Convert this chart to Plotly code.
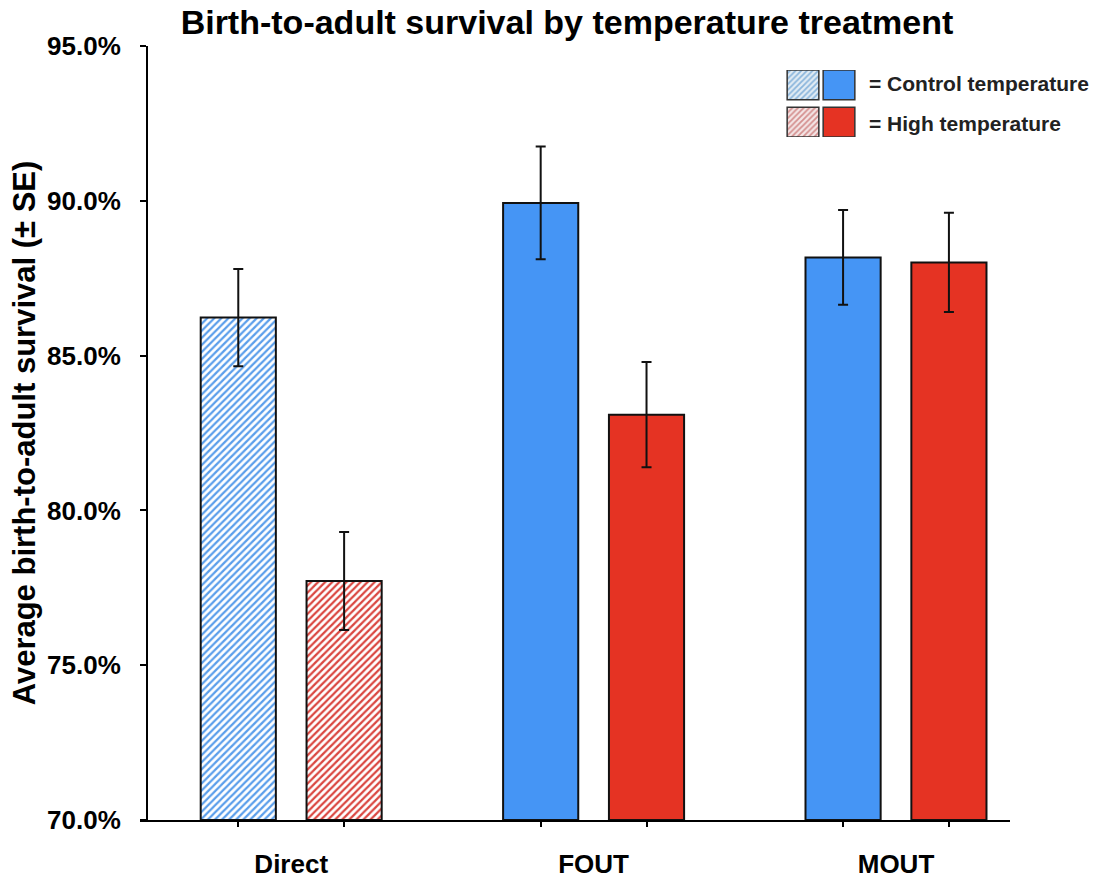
import plotly.graph_objects as go

# Survival data (percent) with standard errors
treatments = ["Direct", "FOUT", "MOUT"]
control_mean = [86.23, 89.93, 88.17]
control_se = [1.57, 1.82, 1.53]
high_mean = [77.72, 83.09, 88.01]
high_se = [1.58, 1.70, 1.60]
y_ticks = [70, 75, 80, 85, 90, 95]

series_names = ["Control temperature", "High temperature"]
legend_labels = ["= Control temperature", "= High temperature"]

# Treatments drawn with a hatched fill; the rest are solid
hatched_treatments = ["Direct"]

FONT = "Liberation Sans, Arial, Helvetica, sans-serif"
BLUE = "#4595F5"
RED = "#E53323"
BLUE_HATCH = "#5A9EEB"
RED_HATCH = "#DA4640"
OUTLINE = "#111111"

fig = go.Figure()


def add_series(name, group, means, ses, solid, hatch_col):
    # hatched and solid parts share an offsetgroup so they sit in one slot
    for is_hatched in (True, False):
        idx = [i for i, t in enumerate(treatments)
               if (t in hatched_treatments) == is_hatched]
        if is_hatched:
            marker = dict(color="white", line=dict(color=OUTLINE, width=2),
                          pattern=dict(shape="/", fgcolor=hatch_col,
                                       bgcolor="white", size=5,
                                       solidity=0.45, fillmode="replace"))
        else:
            marker = dict(color=solid, line=dict(color=OUTLINE, width=2))
        fig.add_trace(go.Bar(
            x=[treatments[i] for i in idx],
            y=[means[i] - 70 for i in idx], base=70,
            name=name, offsetgroup=group, showlegend=False,
            marker=marker,
            error_y=dict(type="data", array=[ses[i] for i in idx],
                         visible=True, color=OUTLINE, thickness=2, width=5),
        ))


add_series(series_names[0], "control", control_mean, control_se, BLUE, BLUE_HATCH)
add_series(series_names[1], "high", high_mean, high_se, RED, RED_HATCH)

# Invisible trace so the overlay axis carrying the per-bar tick marks is drawn
fig.add_trace(go.Scatter(x=[], y=[], xaxis="x2", showlegend=False,
                         hoverinfo="skip"))

# Legend swatches (hatched + solid square per series), drawn as small bars
swatches = [
    # column, row base, pattern shape, fg colour, bg colour
    (0, 1.0, "/", "#8AB5DC", "#E2ECF4"),
    (1, 1.0, "", BLUE, BLUE),
    (0, 0.0, "/", "#D48F8E", "#F4E6E6"),
    (1, 0.0, "", RED, RED),
]
for col, row_base, shape, fg, bg in swatches:
    marker = dict(color=bg, line=dict(color="#333333", width=1.5))
    if shape:
        marker["pattern"] = dict(shape=shape, fgcolor=fg, bgcolor=bg,
                                 size=4, solidity=0.45, fillmode="replace")
    fig.add_trace(go.Bar(
        x=[col], y=[0.8], base=[row_base],
        xaxis="x3", yaxis="y3", offsetgroup="swatch",
        width=0.88, offset=-0.44, showlegend=False, hoverinfo="skip",
        marker=marker,
    ))

# Bar-centre tick positions for the overlay axis
half_slot = (1 - 0.3) / 4
bar_ticks = [i + d for i in range(len(treatments)) for d in (-half_slot, half_slot)]

x_range = [-0.5, 2.377]

fig.update_layout(
    width=1107, height=878,
    margin=dict(l=140, r=97, t=46, b=58, autoexpand=False),
    paper_bgcolor="white", plot_bgcolor="white",
    barmode="group", bargap=0.3, bargroupgap=0.29,
    font=dict(family=FONT, color="black"),
    title=dict(
        text="Birth-to-adult survival by temperature treatment",
        x=567 / 1107, xanchor="center", xref="container",
        y=1 - 22 / 878, yanchor="middle",
        font=dict(family=FONT, size=34, weight="bold", color="black"),
    ),
    xaxis=dict(
        type="category", range=x_range, automargin=False,
        showline=True, linecolor="black", linewidth=2,
        ticks="", showgrid=False, zeroline=False,
        tickfont=dict(family=FONT, size=26, weight="bold", color="black"),
        ticklabelstandoff=20,
    ),
    xaxis2=dict(
        overlaying="x", anchor="y", type="linear", range=x_range,
        tickvals=bar_ticks, ticks="outside", ticklen=6, tickwidth=2,
        tickcolor="black", showticklabels=False, showgrid=False,
        zeroline=False, showline=False, automargin=False,
    ),
    yaxis=dict(
        range=[70, 95], tickvals=y_ticks,
        ticktext=[f"{v:.1f}%" for v in y_ticks],
        anchor="free", position=7 / 870, automargin=False,
        showline=True, linecolor="black", linewidth=2,
        ticks="outside", ticklen=6, tickwidth=2, tickcolor="black",
        showgrid=False, zeroline=False,
        tickfont=dict(family=FONT, size=26, weight="bold", color="black"),
        ticklabelstandoff=14,
        title=dict(text="Average birth-to-adult survival (± SE)", standoff=1,
                   font=dict(family=FONT, size=31, weight="bold",
                             color="black")),
    ),
    xaxis3=dict(domain=[645 / 870, 717 / 870], range=[-0.5, 1.5],
                anchor="y3", visible=False, fixedrange=True),
    yaxis3=dict(domain=[683 / 774, 750 / 774], range=[0, 1.8],
                anchor="x3", visible=False, fixedrange=True),
)

# Legend captions
for text, ypix in zip(legend_labels, [83, 123]):
    fig.add_annotation(
        text=text, xref="paper", yref="paper",
        x=(867 - 140) / 870, y=(820 - ypix) / 774,
        xanchor="left", yanchor="middle", showarrow=False,
        font=dict(family=FONT, size=21, weight="bold", color="#222222"),
    )

fig.write_html("out.html")
